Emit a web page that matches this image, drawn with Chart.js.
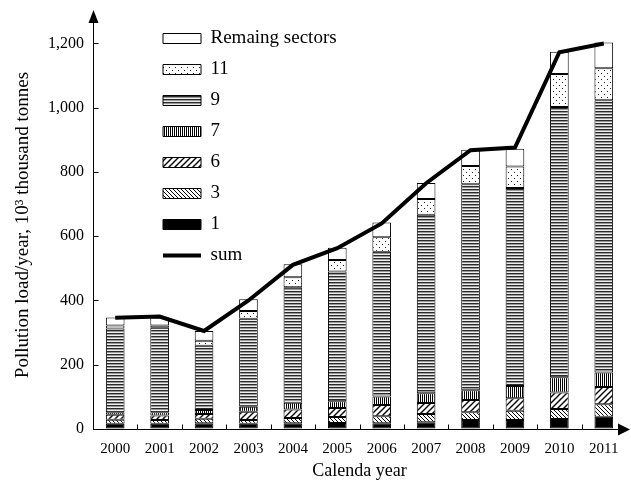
<!DOCTYPE html>
<html>
<head>
<meta charset="utf-8">
<script src="https://cdn.jsdelivr.net/npm/chart.js@4"></script>
<style>
  body { margin: 0; background: #fff; }
  canvas { display: block; }
</style>
</head>
<body>
<canvas id="c" width="631" height="482"></canvas>
<script>
const years = ['2000','2001','2002','2003','2004','2005','2006','2007','2008','2009','2010','2011']
const sector1 = [16, 16, 18, 16, 18, 19, 18, 21, 28, 28, 31, 38]
const sector3 = [13, 12, 14, 12, 16, 18, 22, 26, 24, 29, 31, 39]
const sector6 = [15, 14, 15, 26, 27, 28, 35, 34, 38, 39, 52, 54]
const sector7 = [8, 10, 12, 15, 21, 21, 26, 30, 31, 38, 47, 45]
const sector9 = [261, 263, 200, 274, 359, 404, 451, 556, 641, 616, 841, 847]
const sector11 = [9, 7, 16, 24, 31, 36, 45, 49, 57, 67, 103, 100]
const remaining = [25, 25, 30, 37, 41, 38, 46, 50, 50, 55, 69, 80]
const sumLoad = [346, 350, 305, 400, 511, 563, 640, 765, 868, 876, 1173, 1200]
const yTicks = [0, 200, 400, 600, 800, 1000, 1200]

// little tiles for the black & white fills
function tile(w, h, draw) {
    const cv = document.createElement('canvas')
    cv.width = w
    cv.height = h
    const g = cv.getContext('2d')
    g.fillStyle = '#fff'
    g.fillRect(0, 0, w, h)
    draw(g)
    return g.createPattern(cv, 'repeat')
}

const dots = tile(6, 6, g => {
    g.fillStyle = '#222'
    g.fillRect(1, 1, 1, 1)
    g.fillRect(4, 4, 1, 1)
})
const hStripes = tile(1, 3, g => {
    g.fillStyle = '#2a2a2a'; g.fillRect(0, 0, 1, 1)
    g.fillStyle = '#999'; g.fillRect(0, 1, 1, 1)
    g.fillStyle = '#eee'; g.fillRect(0, 2, 1, 1)
})
const vStripes = tile(2, 1, g => {
    g.fillStyle = '#000'; g.fillRect(0, 0, 1, 1)
})
const slash = tile(6, 6, g => {
    g.strokeStyle = '#000'
    g.lineWidth = 1.4
    g.beginPath()
    g.moveTo(-1, 7); g.lineTo(7, -1)
    g.moveTo(-1, 1); g.lineTo(1, -1)
    g.moveTo(5, 7); g.lineTo(7, 5)
    g.stroke()
})
const backslash = tile(4, 4, g => {
    g.strokeStyle = '#000'
    g.lineWidth = 1
    g.beginPath()
    g.moveTo(-1, -1); g.lineTo(5, 5)
    g.moveTo(3, -1); g.lineTo(5, 1)
    g.moveTo(-1, 3); g.lineTo(1, 5)
    g.stroke()
})

function barSet(label, data, fill) {
    return {
        label: label,
        data: data,
        backgroundColor: fill,
        borderColor: '#000',
        borderWidth: 1,
        borderSkipped: false,
        stack: 'sectors',
        order: 1,
        categoryPercentage: 1,
        barPercentage: 0.42
    }
}

const axisDecor = {
    id: 'axisDecor',
    afterLayout(chart) {
        // legend sits inside the plot, a bit to the right
        chart.legend.left += 58
        chart.legend.top += 17
    },
    afterDraw(chart) {
        const { ctx, chartArea: a, scales } = chart
        ctx.save()
        ctx.fillStyle = '#000'
        ctx.strokeStyle = '#000'
        ctx.lineWidth = 1
        const lx = Math.round(a.left) + 0.5
        ctx.beginPath()
        ctx.moveTo(lx, a.top)
        ctx.lineTo(lx, a.top - 4)
        ctx.stroke()
        ctx.beginPath()
        ctx.moveTo(lx, a.top - 11)
        ctx.lineTo(lx - 5, a.top + 2)
        ctx.lineTo(lx + 5, a.top + 2)
        ctx.closePath()
        ctx.fill()

        const by = Math.round(a.bottom) + 0.5
        const tip = chart.width - 1
        ctx.beginPath()
        ctx.moveTo(lx, by)
        ctx.lineTo(tip - 4, by)
        ctx.stroke()
        ctx.beginPath()
        ctx.moveTo(tip, by)
        ctx.lineTo(tip - 12, by - 6)
        ctx.lineTo(tip - 12, by + 6)
        ctx.closePath()
        ctx.fill()

        ctx.beginPath()
        scales.y.ticks.forEach(t => {
            const py = Math.round(scales.y.getPixelForValue(t.value)) + 0.5
            ctx.moveTo(lx, py)
            ctx.lineTo(lx + 5, py)
        })
        for (let i = 0; i < years.length - 1; i++) {
            const px = Math.round((scales.x.getPixelForValue(i) + scales.x.getPixelForValue(i + 1)) / 2) + 0.5
            ctx.moveTo(px, by)
            ctx.lineTo(px, by - 5)
        }
        ctx.stroke()
        ctx.restore()
    }
}

Chart.defaults.font.family = "'Liberation Serif', 'Times New Roman', serif"
Chart.defaults.color = '#000'

const c = document.getElementById('c')
new Chart(c, {
    type: 'bar',
    data: {
        labels: years,
        datasets: [
            {
                type: 'line',
                label: 'sum',
                data: sumLoad,
                borderColor: '#000',
                backgroundColor: '#000',
                borderWidth: 4,
                pointRadius: 0,
                tension: 0,
                stack: 'sum',
                order: 0
            },
            barSet('1', sector1, '#000'),
            barSet('3', sector3, backslash),
            barSet('6', sector6, slash),
            barSet('7', sector7, vStripes),
            barSet('9', sector9, hStripes),
            barSet('11', sector11, dots),
            barSet('Remaing sectors', remaining, '#fff')
        ]
    },
    options: {
        responsive: false,
        animation: false,
        layout: { padding: { top: 21, right: 5, left: 0, bottom: 0 } },
        plugins: {
            tooltip: { enabled: false },
            legend: {
                position: 'chartArea',
                align: 'start',
                reverse: true,
                labels: {
                    font: { size: 19 },
                    color: '#000',
                    usePointStyle: true,
                    pointStyleWidth: 38,
                    boxHeight: 10,
                    padding: 12,
                    generateLabels(chart) {
                        const items = Chart.defaults.plugins.legend.labels.generateLabels(chart)
                        items.forEach(it => {
                            const ds = chart.data.datasets[it.datasetIndex]
                            it.strokeStyle = '#000'
                            if (ds.type === 'line') {
                                it.pointStyle = 'line'
                                it.lineWidth = 4
                            } else {
                                it.pointStyle = 'rect'
                                it.lineWidth = 1
                            }
                        })
                        return items
                    }
                }
            }
        },
        scales: {
            x: {
                stacked: true,
                grid: { display: true, drawOnChartArea: false, drawTicks: false },
                border: { color: '#000', width: 1 },
                ticks: { font: { size: 15 }, padding: 11, maxRotation: 0 },
                title: { display: true, text: 'Calenda year', font: { size: 18 }, padding: { top: 2, bottom: 0 } },
                afterFit(scale) { scale.height = 53 }
            },
            y: {
                stacked: true,
                min: 0,
                max: 1270,
                grid: { display: true, drawOnChartArea: false, drawTicks: false },
                border: { color: '#000', width: 1 },
                ticks: {
                    stepSize: 200,
                    font: { size: 16 },
                    padding: 9,
                    callback: v => v.toLocaleString('en-US')
                },
                afterBuildTicks(scale) {
                    scale.ticks = yTicks.map(v => ({ value: v }))
                },
                title: {
                    display: true,
                    text: 'Pollution load/year, 10³ thousand tonnes',
                    font: { size: 19 },
                    padding: { top: 12, bottom: 0 }
                },
                afterFit(scale) { scale.width = 93 }
            }
        }
    },
    plugins: [axisDecor]
})
</script>
</body>
</html>
